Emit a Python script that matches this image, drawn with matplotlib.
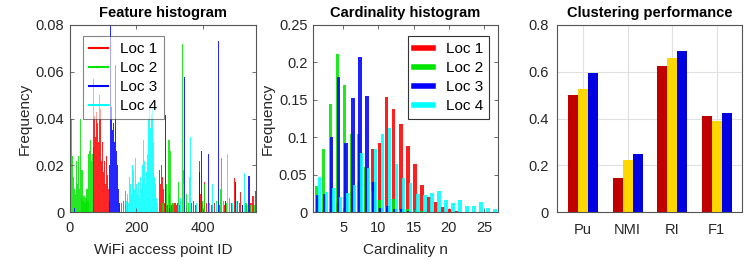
import matplotlib
matplotlib.use("Agg")
import matplotlib.pyplot as plt
from matplotlib.lines import Line2D
import numpy as np

plt.rcParams['font.family'] = ['Liberation Sans', 'DejaVu Sans']

# ---------------- Panel 1: feature histogram (AP id -> frequency) ----------------
loc1_ids = [70, 72, 75, 78, 81, 84, 87, 90, 93, 96, 99, 102, 105, 108, 111, 114, 117, 120,
            155, 160, 166, 270, 273, 276, 279, 282, 285, 292, 300, 304, 308, 312, 316, 320,
            324, 330, 350, 365, 371, 378, 389, 392, 398, 404, 412, 425, 436, 450, 466, 485,
            495, 503, 510, 514, 520, 532, 545, 551, 558]
loc1_vals = [0.028, 0.057, 0.041, 0.032, 0.043, 0.038, 0.030, 0.050, 0.044, 0.022, 0.030, 0.017,
             0.022, 0.012, 0.024, 0.016, 0.010, 0.005, 0.004, 0.005, 0.003, 0.018, 0.012, 0.020,
             0.015, 0.010, 0.004, 0.003, 0.008, 0.003, 0.004, 0.003, 0.004, 0.003, 0.004, 0.003,
             0.003, 0.004, 0.005, 0.003, 0.022, 0.008, 0.004, 0.013, 0.004, 0.003, 0.004, 0.003,
             0.003, 0.004, 0.0145, 0.005, 0.004, 0.0085, 0.003, 0.003, 0.004, 0.007, 0.009]

loc2_ids = [2, 5, 8, 11, 14, 17, 20, 23, 26, 29, 31, 34, 36, 39, 42, 45, 48, 51, 54, 57, 60,
            62, 65, 68, 150, 156, 162, 168, 172, 280, 290, 298, 302, 310, 326, 332, 338, 342,
            350, 358, 380, 400, 406, 420, 440, 452, 457, 462, 470, 480, 490, 505, 520, 530,
            545, 555]
loc2_vals = [0.016, 0.040, 0.024, 0.015, 0.010, 0.008, 0.022, 0.012, 0.024, 0.010, 0.040, 0.006,
             0.018, 0.005, 0.007, 0.004, 0.006, 0.010, 0.005, 0.025, 0.026, 0.031, 0.022, 0.025,
             0.003, 0.004, 0.005, 0.009, 0.006, 0.004, 0.012, 0.031, 0.026, 0.004, 0.013, 0.005,
             0.072, 0.018, 0.008, 0.004, 0.003, 0.005, 0.012, 0.004, 0.005, 0.010, 0.023, 0.005,
             0.004, 0.006, 0.003, 0.004, 0.003, 0.004, 0.003, 0.003]

loc3_ids = [14, 120, 123, 126, 129, 132, 135, 138, 141, 144, 147, 150, 288, 300, 346, 391, 395,
            417, 430, 447, 469, 498, 520, 539]
loc3_vals = [0.002, 0.020, 0.082, 0.045, 0.035, 0.038, 0.030, 0.063, 0.026, 0.020, 0.010, 0.004,
             0.0416, 0.002, 0.0577, 0.017, 0.026, 0.025, 0.003, 0.073, 0.005, 0.013, 0.003, 0.0155]

loc4_ids = [2, 170, 174, 177, 180, 183, 186, 189, 192, 195, 198, 201, 204, 207, 210, 213, 216,
            219, 222, 225, 228, 231, 234, 237, 240, 243, 246, 249, 252, 255, 258, 261, 264,
            326, 332, 342, 360, 364, 380, 420, 429, 440, 474, 490, 500, 526, 535, 547]
loc4_vals = [0.019, 0.005, 0.008, 0.004, 0.015, 0.012, 0.008, 0.020, 0.018, 0.010, 0.023, 0.012,
             0.008, 0.013, 0.006, 0.015, 0.010, 0.020, 0.031, 0.022, 0.012, 0.017, 0.025, 0.040,
             0.047, 0.036, 0.042, 0.044, 0.030, 0.015, 0.012, 0.006, 0.004, 0.003, 0.006, 0.012,
             0.015, 0.032, 0.004, 0.003, 0.012, 0.004, 0.025, 0.004, 0.005, 0.0166, 0.003, 0.003]

# ---------------- Panel 2: cardinality histogram ----------------
card_n = list(range(1, 27))
card_loc1 = [0.002, 0.003, 0.005, 0.013, 0.020, 0.029, 0.041, 0.061, 0.085, 0.093, 0.154, 0.138,
             0.118, 0.089, 0.064, 0.036, 0.021, 0.014, 0.007, 0.004, 0.002, 0.001, 0.001, 0.001,
             0.0005, 0.0]
card_loc2 = [0.035, 0.084, 0.144, 0.211, 0.170, 0.105, 0.105, 0.060, 0.028, 0.016, 0.008, 0.018,
             0.003, 0.004, 0.003, 0.002, 0.001, 0.001, 0.0, 0.0, 0.0, 0.0, 0.0, 0.0, 0.0, 0.0]
card_loc3 = [0.023, 0.024, 0.101, 0.180, 0.093, 0.152, 0.207, 0.155, 0.040, 0.006, 0.008, 0.005,
             0.004, 0.002, 0.001, 0.0, 0.0, 0.0, 0.0, 0.0, 0.0, 0.0, 0.0, 0.0, 0.0, 0.0]
card_loc4 = [0.047, 0.027, 0.033, 0.020, 0.026, 0.036, 0.079, 0.059, 0.084, 0.104, 0.112, 0.065,
             0.046, 0.039, 0.025, 0.023, 0.026, 0.028, 0.017, 0.013, 0.017, 0.008, 0.009, 0.014,
             0.006, 0.004]

# ---------------- Panel 3: clustering performance ----------------
metrics = ['Pu', 'NMI', 'RI', 'F1']
perf_a = [0.503, 0.147, 0.626, 0.411]
perf_b = [0.528, 0.222, 0.660, 0.389]
perf_c = [0.596, 0.251, 0.690, 0.423]

loc_labels = ['Loc 1', 'Loc 2', 'Loc 3', 'Loc 4']
loc_colors = ['#ff0000', '#00e600', '#0000ff', '#00ffff']
perf_colors = ['#c00000', '#ffd700', '#0000e0']
axis_col = '#262626'

fig = plt.figure(figsize=(7.47, 2.60), dpi=100)
W, H = 747, 260
def rect(l, r, t=25, b=212.3):
    return [l / W, (H - b) / H, (r - l) / W, (b - t) / H]

ax1 = fig.add_axes(rect(70, 256))
ax2 = fig.add_axes(rect(313, 498))
ax3 = fig.add_axes(rect(557, 742))

def style(ax):
    for s in ax.spines.values():
        s.set_color('#555555')
        s.set_linewidth(0.8)
    ax.tick_params(direction='in', length=3, width=0.6, colors='#555555',
                   labelcolor=axis_col, labelsize=10.5, top=True, right=True, pad=4)
    ax.tick_params(axis='x', pad=6)

# Panel 1
series1 = [(loc1_ids, loc1_vals), (loc2_ids, loc2_vals), (loc3_ids, loc3_vals), (loc4_ids, loc4_vals)]
for (ids, vals), c in zip(series1, loc_colors):
    ax1.bar(ids, vals, width=3.4, color=c, alpha=0.85, linewidth=0)
ax1.set_xlim(0, 560)
ax1.set_ylim(0, 0.08)
ax1.set_xticks([0, 200, 400])
ax1.set_yticks([0, 0.02, 0.04, 0.06, 0.08])
ax1.set_yticklabels(['0', '0.02', '0.04', '0.06', '0.08'])
ax1.set_title('Feature histogram', fontsize=10.5, fontweight='bold', pad=6)
ax1.set_xlabel('WiFi access point ID', fontsize=11, color=axis_col, labelpad=6)
ax1.set_ylabel('Frequency', fontsize=11, color=axis_col, labelpad=3)
style(ax1)
h1 = [Line2D([0], [0], color=c, lw=1.5) for c in loc_colors]
leg1 = ax1.legend(h1, loc_labels, loc='upper left', bbox_to_anchor=(0.07, 0.941),
                  borderaxespad=0, fontsize=11, handlelength=1.25, handletextpad=0.8,
                  labelspacing=0.33, borderpad=0.4, fancybox=False, framealpha=0.6,
                  edgecolor='#333333')
leg1.get_frame().set_linewidth(0.8)

# Panel 2
offsets = [-0.06, -0.06, 0.12, 0.36]
bw = 0.48
for vals, c, off in zip([card_loc1, card_loc2, card_loc3, card_loc4], loc_colors, offsets):
    ax2.bar(np.array(card_n) + off, vals, width=bw, align='edge', color=c, alpha=0.88, linewidth=0)
ax2.set_xlim(0.69, 27.0)
ax2.set_ylim(0, 0.25)
ax2.set_xticks([5, 10, 15, 20, 25])
ax2.set_yticks([0, 0.05, 0.1, 0.15, 0.2, 0.25])
ax2.set_yticklabels(['0', '0.05', '0.1', '0.15', '0.2', '0.25'])
ax2.set_title('Cardinality histogram', fontsize=10.5, fontweight='bold', pad=6)
ax2.set_xlabel('Cardinality n', fontsize=11, color=axis_col, labelpad=6)
ax2.set_ylabel('Frequency', fontsize=11, color=axis_col, labelpad=3)
style(ax2)
h2 = [Line2D([0], [0], color=c, lw=4) for c in loc_colors]
leg2 = ax2.legend(h2, loc_labels, loc='upper left', bbox_to_anchor=(0.514, 0.941),
                  borderaxespad=0, fontsize=11, handlelength=1.25, handletextpad=0.8,
                  labelspacing=0.33, borderpad=0.4, fancybox=False, framealpha=1.0,
                  edgecolor='#333333')
leg2.get_frame().set_linewidth(0.8)

# Panel 3
xm = np.arange(1, len(metrics) + 1)
pw = 0.225
ax3.set_axisbelow(True)
ax3.grid(True, color='#e0e0e0', linewidth=0.8)
for vals, c, off in zip([perf_a, perf_b, perf_c], perf_colors, [-pw, 0, pw]):
    ax3.bar(xm + off, vals, width=pw, color=c, linewidth=0)
ax3.set_xlim(0.41, 4.57)
ax3.set_ylim(0, 0.8)
ax3.set_xticks(xm)
ax3.set_xticklabels(metrics)
ax3.set_yticks([0, 0.2, 0.4, 0.6, 0.8])
ax3.set_yticklabels(['0', '0.2', '0.4', '0.6', '0.8'])
ax3.set_title('Clustering performance', fontsize=10.5, fontweight='bold', pad=6)
style(ax3)
ax3.tick_params(length=0, right=False, top=False)
ax3.tick_params(axis='x', pad=8)
ax3.tick_params(axis='y', pad=6)

fig.savefig('out.png', dpi=100)
